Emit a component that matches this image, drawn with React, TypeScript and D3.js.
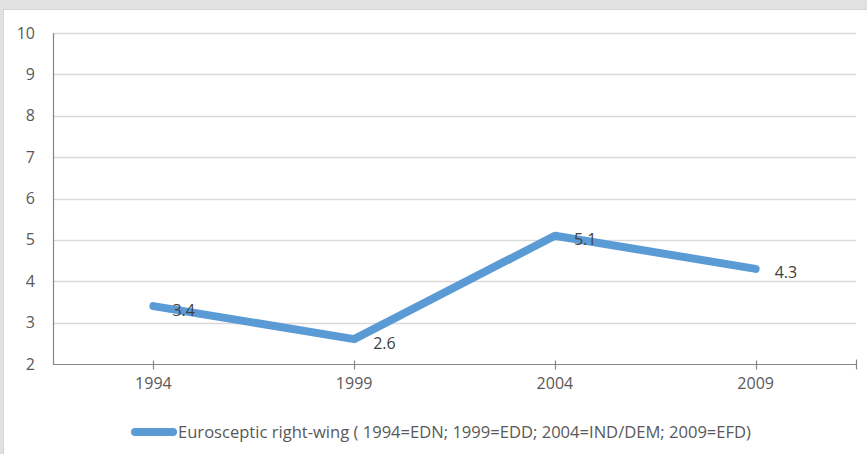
import React, { useEffect, useRef } from "react";
import * as d3 from "d3";

const years = ["1994", "1999", "2004", "2009"];
const values = [3.4, 2.6, 5.1, 4.3];
const yTicks = [2, 3, 4, 5, 6, 7, 8, 9, 10];
const seriesName = "Eurosceptic right-wing ( 1994=EDN; 1999=EDD; 2004=IND/DEM; 2009=EFD)";

const FONT = "'Open Sans', 'Liberation Sans', sans-serif";

export default function App() {
  const ref = useRef<SVGSVGElement>(null);

  useEffect(() => {
    const svg = d3.select(ref.current);
    svg.selectAll("*").remove();

    const width = 867;
    const height = 454;
    const margin = { top: 33, right: 11, bottom: 90, left: 53 };

    // background frame
    svg.append("rect").attr("width", width).attr("height", height).attr("fill", "#e1e1e1");
    svg.append("rect").attr("x", 3).attr("y", 10).attr("width", width - 3).attr("height", height - 10).attr("fill", "#fff");
    svg.append("line").attr("x1", 3).attr("x2", width).attr("y1", 9.5).attr("y2", 9.5).attr("stroke", "#d4d4d4");
    svg.append("line").attr("x1", 3.5).attr("x2", 3.5).attr("y1", 10).attr("y2", height).attr("stroke", "#d4d4d4");

    const x = d3.scaleBand()
      .domain(years)
      .range([margin.left, width - margin.right]);

    const y = d3.scaleLinear()
      .domain([2, 10])
      .range([height - margin.bottom, margin.top]);

    const cx = (d: string) => (x(d) as number) + x.bandwidth() / 2;

    // gridlines
    svg.append("g")
      .selectAll("line")
      .data(yTicks.filter(t => t > 2))
      .join("line")
      .attr("x1", margin.left)
      .attr("x2", width - margin.right)
      .attr("y1", d => Math.round(y(d)) + 0.5)
      .attr("y2", d => Math.round(y(d)) + 0.5)
      .attr("stroke", "#d9d9d9")
      .attr("stroke-width", 1.3);

    // y axis labels
    svg.append("g")
      .selectAll("text")
      .data(yTicks)
      .join("text")
      .attr("x", 35)
      .attr("y", d => y(d))
      .attr("dy", "0.35em")
      .attr("text-anchor", "end")
      .attr("font-family", FONT)
      .attr("font-size", 16)
      .attr("fill", "#595959")
      .text(d => d);

    // axes lines
    const y0 = Math.round(y(2)) + 0.5;
    svg.append("line")
      .attr("x1", margin.left + 0.5).attr("x2", margin.left + 0.5)
      .attr("y1", margin.top).attr("y2", y0)
      .attr("stroke", "#868686").attr("stroke-width", 1.2);
    svg.append("line")
      .attr("x1", margin.left).attr("x2", width - margin.right)
      .attr("y1", y0).attr("y2", y0)
      .attr("stroke", "#868686").attr("stroke-width", 1.2);

    // x ticks at category centres and the right end
    const tickXs = years.map(cx).concat([width - margin.right]);
    svg.append("g")
      .selectAll("line")
      .data(tickXs)
      .join("line")
      .attr("x1", d => Math.round(d) + 0.5)
      .attr("x2", d => Math.round(d) + 0.5)
      .attr("y1", (d, i) => (i === tickXs.length - 1 ? y0 - 5 : y0 - 4))
      .attr("y2", y0 + 5)
      .attr("stroke", "#868686")
      .attr("stroke-width", 1.2);

    // x labels
    svg.append("g")
      .selectAll("text")
      .data(years)
      .join("text")
      .attr("x", d => cx(d))
      .attr("y", y0 + 24)
      .attr("text-anchor", "middle")
      .attr("font-family", FONT)
      .attr("font-size", 16)
      .attr("fill", "#595959")
      .text(d => d);

    // line
    const pts = years.map((yr, i) => ({ yr, v: values[i] }));
    const line = d3.line<{ yr: string; v: number }>()
      .x(d => cx(d.yr))
      .y(d => y(d.v));

    svg.append("path")
      .datum(pts)
      .attr("fill", "none")
      .attr("stroke", "#5b9bd5")
      .attr("stroke-width", 8)
      .attr("stroke-linecap", "round")
      .attr("stroke-linejoin", "round")
      .attr("d", line);

    // data labels
    svg.append("g")
      .selectAll("text")
      .data(pts)
      .join("text")
      .attr("x", d => cx(d.yr) + 19)
      .attr("y", d => y(d.v) + 4)
      .attr("dy", "0.35em")
      .attr("font-family", FONT)
      .attr("font-size", 16)
      .attr("fill", "#404040")
      .text(d => d.v.toFixed(1));

    // legend
    const ly = 432;
    svg.append("line")
      .attr("x1", 135).attr("x2", 173)
      .attr("y1", ly).attr("y2", ly)
      .attr("stroke", "#5b9bd5")
      .attr("stroke-width", 8)
      .attr("stroke-linecap", "round");
    svg.append("text")
      .attr("x", 178)
      .attr("y", ly)
      .attr("dy", "0.35em")
      .attr("font-family", FONT)
      .attr("font-size", 16)
      .attr("fill", "#595959")
      .attr("textLength", 573)
      .attr("lengthAdjust", "spacingAndGlyphs")
      .text(seriesName);
  }, []);

  return (
    <svg
      ref={ref}
      width={867}
      height={454}
      style={{ position: "absolute", left: 0, top: 0, display: "block" }}
    />
  );
}
